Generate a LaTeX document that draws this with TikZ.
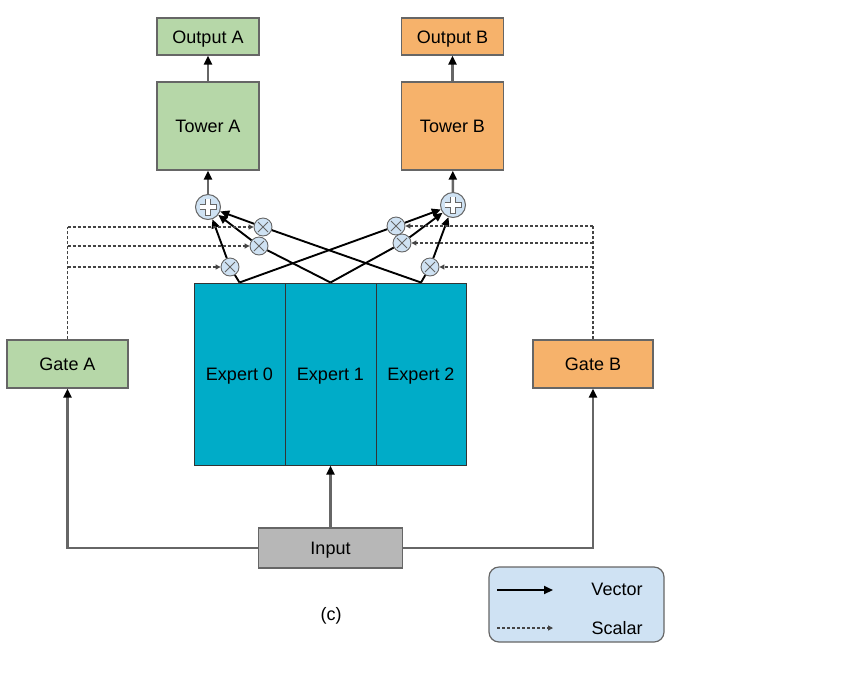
\documentclass[tikz,border=0pt]{standalone}
\usepackage{fontspec}
\setmainfont{Liberation Sans}
\usetikzlibrary{arrows.meta}
\definecolor{gfill}{HTML}{B6D7A8}
\definecolor{ofill}{HTML}{F6B26B}
\definecolor{efill}{HTML}{00ACC8}
\definecolor{ifill}{HTML}{B7B7B7}
\definecolor{lfill}{HTML}{CFE2F3}
\definecolor{bord}{HTML}{666666}
\definecolor{dashc}{HTML}{444444}
\begin{document}
\begin{tikzpicture}[x=1pt,y=-1pt,font=\fontsize{18}{21}\selectfont,
  box/.style={draw=bord,line width=1.4pt,inner sep=0pt,text height=13pt,text depth=0pt},
  gbox/.style={box,fill=gfill},
  obox/.style={box,fill=ofill},
  ebox/.style={draw=black!80,line width=1pt,fill=efill,inner sep=0pt,text height=13pt,text depth=0pt,minimum width=91,minimum height=182},
  tipv/.style={-{Triangle[length=9pt,width=8pt,color=black]}},
  gline/.style={draw=bord,line width=2.5pt,tipv},
  eline/.style={draw=black,line width=1.9pt},
  earrow/.style={draw=black,line width=1.9pt,-{Triangle[length=9pt,width=8pt]}},
  dline/.style={draw=dashc,line width=1.1pt,dash pattern=on 3pt off 2pt},
  darrow/.style={dline,-{Triangle[length=5pt,width=5pt,color=dashc]}},
  mult/.style={circle,draw=bord,line width=0.9pt,fill=lfill,minimum size=18,inner sep=0pt,
    path picture={\draw[bord,line width=0.9pt] (path picture bounding box.center) +(-5,-5) -- +(5,5) +(-5,5) -- +(5,-5);}},
  adder/.style={circle,draw=bord,line width=1pt,fill=lfill,minimum size=25,inner sep=0pt,
    path picture={\draw[bord,line width=6.5pt] (path picture bounding box.center) +(-8.5,0) -- +(8.5,0) +(0,-8.5) -- +(0,8.5);
      \draw[white,line width=4pt] (path picture bounding box.center) +(-7.8,0) -- +(7.8,0) +(0,-7.8) -- +(0,7.8);}}
]
\useasboundingbox (0,0) rectangle (842,686);

% boxes
\node[gbox,minimum width=102,minimum height=37] (outA) at (208,36.5) {Output A};
\node[gbox,minimum width=102,minimum height=88] (towA) at (208,126) {Tower A};
\node[obox,minimum width=102,minimum height=37] (outB) at (452.5,36.5) {Output B};
\node[obox,minimum width=102,minimum height=88] (towB) at (452.5,126) {Tower B};
\node[gbox,minimum width=121,minimum height=48] (gA) at (67.5,364) {Gate A};
\node[obox,minimum width=120,minimum height=48] (gB) at (593,364) {Gate B};
\node[ebox] (E0) at (239.5,374) {Expert 0};
\node[ebox] (E1) at (330.5,374) {Expert 1};
\node[ebox,minimum width=90] (E2) at (421,374) {Expert 2};
\node[box,fill=ifill,minimum width=144,minimum height=40] (in) at (330.5,548) {Input};
\node (cap) at (331,616) {(c)};

% adders and multipliers
\node[adder] (addA) at (208,207) {};
\node[adder] (addB) at (453,205) {};
\node[mult] (mA1) at (263,227) {};
\node[mult] (mA2) at (259,246) {};
\node[mult] (mA3) at (230,267) {};
\node[mult] (mB1) at (396,226) {};
\node[mult] (mB2) at (402,243) {};
\node[mult] (mB3) at (430,267) {};

% expert outputs to multipliers
\draw[eline] (E0.north) -- (mA3);
\draw[eline] (E1.north) -- (mA2);
\draw[eline] (E2.north) -- (mA1);
\draw[eline] (E0.north) -- (mB1);
\draw[eline] (E1.north) -- (mB2);
\draw[eline] (E2.north) -- (mB3);
% multipliers to adders
\draw[earrow] (mA1) -- (addA);
\draw[earrow] (mA2) -- (addA);
\draw[earrow] (mA3) -- (addA);
\draw[earrow] (mB1) -- (addB);
\draw[earrow] (mB2) -- (addB);
\draw[earrow] (mB3) -- (addB);

% adders to towers, towers to outputs
\draw[gline] (addA) -- (towA);
\draw[gline] (addB) -- (towB);
\draw[gline] (towA) -- (outA);
\draw[gline] (towB) -- (outB);

% input connections
\coordinate (cA) at (gA.south |- in.west);
\coordinate (cB) at (gB.south |- in.east);
\draw[gline] (in.west) -- (cA) -- (gA.south);
\draw[gline] (in.east) -- (cB) -- (gB.south);
\draw[gline] (in.north) -- (E1.south);

% gate scalars
\coordinate (dA1) at (gA.north |- mA1);
\coordinate (dA2) at (gA.north |- mA2);
\coordinate (dA3) at (gA.north |- mA3);
\draw[dline] (gA.north) -- (dA1);
\draw[darrow] (dA1) -- (mA1);
\draw[darrow] (dA2) -- (mA2);
\draw[darrow] (dA3) -- (mA3);
\coordinate (dB1) at (gB.north |- mB1);
\coordinate (dB2) at (gB.north |- mB2);
\coordinate (dB3) at (gB.north |- mB3);
\draw[dline] (gB.north) -- (dB1);
\draw[darrow] (dB1) -- (mB1);
\draw[darrow] (dB2) -- (mB2);
\draw[darrow] (dB3) -- (mB3);

% legend
\node[draw=bord,line width=1.2pt,fill=lfill,rounded corners=10pt,minimum width=175,minimum height=75] (leg) at (576.5,604.5) {};
\coordinate (lv1) at (497,590);
\coordinate (lv2) at (553,590);
\coordinate (ls1) at (497,628);
\coordinate (ls2) at (553,628);
\draw[earrow] (lv1) -- (lv2);
\draw[darrow] (ls1) -- (ls2);
\node (lvt) at (617,589) {Vector};
\node (lst) at (617,628) {Scalar};
\end{tikzpicture}
\end{document}
